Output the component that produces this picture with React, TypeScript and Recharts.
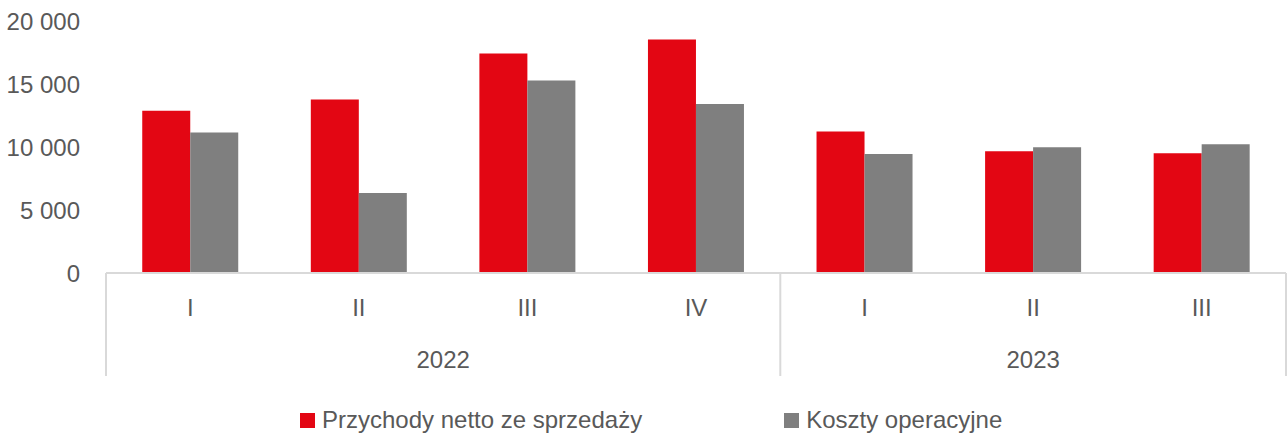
import React from "react";
import { BarChart, Bar, XAxis, YAxis } from "recharts";

const quarters = ["I", "II", "III", "IV", "I", "II", "III"];
const years = ["2022", "2022", "2022", "2022", "2023", "2023", "2023"];
const revenue = [12870, 13770, 17430, 18540, 11230, 9660, 9500];
const costs = [11150, 6350, 15280, 13420, 9450, 9980, 10220];
const yTicks = [0, 5000, 10000, 15000, 20000];
const seriesNames = ["Przychody netto ze sprzedaży", "Koszty operacyjne"];
const seriesColors = ["#E30613", "#7F7F7F"];

const W = 1287;
const H = 436;
const margin = { top: 21, right: 1, left: 0, bottom: 0 };
const yAxisWidth = 106;
const band = (W - margin.left - margin.right - yAxisWidth) / quarters.length;
const font = "'Liberation Sans', Arial, sans-serif";
const textColor = "#595959";
const lineColor = "#D9D9D9";

const data = quarters.map((q, i) => ({
  key: `${years[i]}-${q}`,
  revenue: revenue[i],
  costs: costs[i],
}));

const fmt = (v: number) => String(v).replace(/\B(?=(\d{3})+(?!\d))/g, " ");

function YTick({ y, payload }: any) {
  return (
    <text x={80} y={y} dy={8.5} textAnchor="end" fontSize={24} fontFamily={font} fill={textColor}>
      {fmt(payload.value)}
    </text>
  );
}

function XTick({ x, y, index }: any) {
  const i = index as number;
  const year = years[i];
  const first = i === 0 || years[i - 1] !== year;
  const last = i === years.length - 1;
  const left = x - band / 2;
  let yearLabel = null;
  if (first) {
    const n = years.filter((yy) => yy === year).length;
    yearLabel = (
      <text x={left + (n * band) / 2} y={y + 95} textAnchor="middle" fontSize={24} fontFamily={font} fill={textColor}>
        {year}
      </text>
    );
  }
  return (
    <g>
      {first && <line x1={left} x2={left} y1={y} y2={y + 103} stroke={lineColor} strokeWidth={2} />}
      {last && <line x1={left + band} x2={left + band} y1={y} y2={y + 103} stroke={lineColor} strokeWidth={2} />}
      <text x={x} y={y + 42.5} textAnchor="middle" fontSize={24} fontFamily={font} fill={textColor}>
        {quarters[i]}
      </text>
      {yearLabel}
    </g>
  );
}

export default function App() {
  return (
    <div style={{ position: "absolute", left: 0, top: 0, width: W, height: H, background: "#fff" }}>
      <BarChart width={W} height={H} data={data} margin={margin} barCategoryGap="21.5%" barGap={0}>
        <XAxis
          dataKey="key"
          height={H - 273 - margin.bottom}
          tickSize={0}
          tickMargin={0}
          tickLine={false}
          axisLine={{ stroke: lineColor, strokeWidth: 2 }}
          tick={<XTick />}
          interval={0}
        />
        <YAxis
          width={yAxisWidth}
          domain={[0, 20000]}
          ticks={yTicks}
          axisLine={false}
          tickLine={false}
          tick={<YTick />}
        />
        <Bar dataKey="revenue" name={seriesNames[0]} fill={seriesColors[0]} isAnimationActive={false} />
        <Bar dataKey="costs" name={seriesNames[1]} fill={seriesColors[1]} isAnimationActive={false} />
      </BarChart>
      <div
        style={{
          position: "absolute",
          top: 408,
          left: 300,
          display: "flex",
          gap: 142,
          fontFamily: font,
          fontSize: 24,
          lineHeight: "24px",
          color: textColor,
        }}
      >
        {seriesNames.map((name, i) => (
          <div key={name} style={{ display: "flex", alignItems: "center" }}>
            <span style={{ width: 15, height: 15, background: seriesColors[i], marginRight: 7 }} />
            <span style={{ whiteSpace: "nowrap" }}>{name}</span>
          </div>
        ))}
      </div>
    </div>
  );
}
